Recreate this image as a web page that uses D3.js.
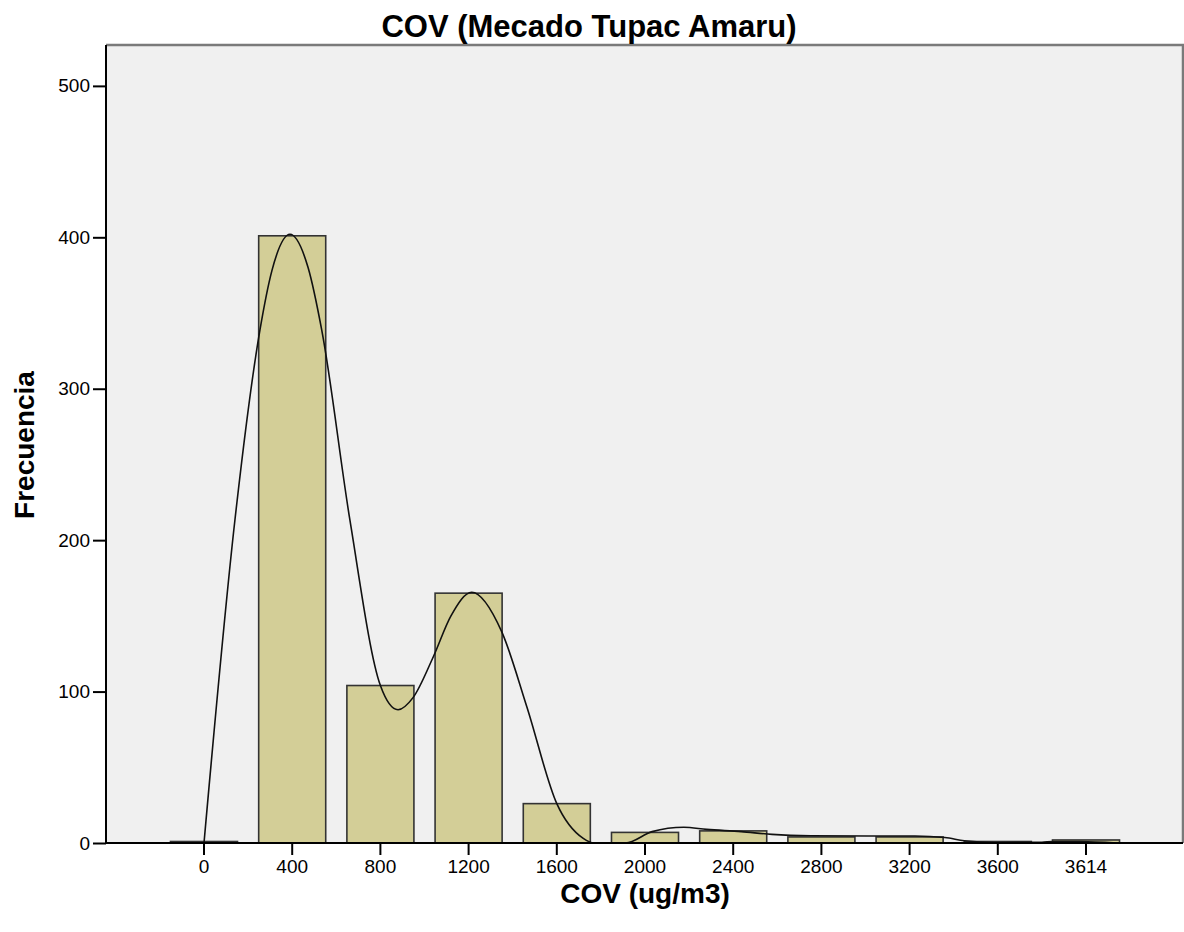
<!DOCTYPE html>
<html>
<head>
<meta charset="utf-8">
<script src="https://cdn.jsdelivr.net/npm/d3@7/dist/d3.min.js"></script>
<style>
  html, body { margin: 0; padding: 0; background: #fff; }
  svg { display: block; font-family: "Liberation Sans", Arial, sans-serif; }
</style>
</head>
<body>
<svg id="chart" width="1184" height="932"></svg>
<script>
// Histogram bins (category labels) and their frequencies
const binLabels = ["0", "400", "800", "1200", "1600", "2000", "2400", "2800", "3200", "3600", "3614"];
const frequencies = [1, 401, 104, 165, 26, 7, 8, 4, 4, 1, 2];
const yTicks = [0, 100, 200, 300, 400, 500];

// Density curve: position along the bin axis (bin index) and frequency
const curveIndex = [0, 0.35, 0.635, 0.77, 0.975, 1.18, 1.334, 1.655, 2.0, 2.2, 2.37, 2.6, 2.8, 3.035, 3.375, 3.66, 4.0, 4.3, 4.42, 4.78, 5.08, 5.44, 5.7, 6.09, 6.44, 6.88, 7.53, 8.06, 8.4, 8.62, 8.97, 9.5, 9.62, 9.93, 10.35];
const curveValue = [0, 213, 339, 378, 402, 380, 339, 213, 104, 88, 96, 123, 150, 165.6, 139.6, 90, 26, 3, 0, 0, 7.5, 10.4, 9, 7.5, 5.7, 4.8, 4.6, 4.6, 3.6, 1.5, 0.3, 0.5, 1, 1, 0];

const svg = d3.select("#chart");
const plot = { left: 106, top: 45, right: 1183, bottom: 843 };

const x = d3.scaleBand()
  .domain(binLabels)
  .range([159.9, 1130.1])
  .paddingInner(0.24)
  .paddingOuter(0.12);

const y = d3.scaleLinear()
  .domain([0, 527])
  .range([plot.bottom, plot.top]);

// Linear mapping of bin index to pixel, sharing the band scale's geometry
const xIdx = d3.scaleLinear()
  .domain([0, 1])
  .range([x(binLabels[0]) + x.bandwidth() / 2, x(binLabels[1]) + x.bandwidth() / 2]);

// Plot background and frame
svg.append("rect")
  .attr("x", plot.left).attr("y", plot.top)
  .attr("width", plot.right - plot.left).attr("height", plot.bottom - plot.top)
  .attr("fill", "#f0f0f0");
svg.append("path")
  .attr("d", `M${plot.left},${plot.top}H${plot.right}V${plot.bottom}`)
  .attr("fill", "none").attr("stroke", "#7a7a7a").attr("stroke-width", 2.5);

// Bars
svg.append("g").selectAll("rect")
  .data(frequencies)
  .join("rect")
  .attr("x", (d, i) => x(binLabels[i]))
  .attr("y", d => y(d))
  .attr("width", x.bandwidth())
  .attr("height", d => y(0) - y(d))
  .attr("fill", "#d3ce97")
  .attr("stroke", "#333")
  .attr("stroke-width", 1.6);

// Density curve
const line = d3.line()
  .x(d => xIdx(d[0]))
  .y(d => y(d[1]))
  .curve(d3.curveMonotoneX);
svg.append("path")
  .datum(curveIndex.map((v, i) => [v, curveValue[i]]))
  .attr("d", line)
  .attr("fill", "none")
  .attr("stroke", "#111")
  .attr("stroke-width", 1.6);

// Y axis
const yAxis = svg.append("g")
  .attr("transform", `translate(${plot.left},0)`)
  .call(d3.axisLeft(y).tickValues(yTicks).tickSize(13).tickSizeOuter(0).tickPadding(3));
yAxis.select(".domain").attr("d", `M0,${plot.top}V${plot.bottom}`).attr("stroke", "#000").attr("stroke-width", 2);
yAxis.selectAll(".tick line").attr("stroke", "#000").attr("stroke-width", 2);
yAxis.selectAll(".tick text").attr("font-size", 19).attr("fill", "#000")
  .attr("font-family", "Liberation Sans, Arial, sans-serif");

// X axis
const xAxis = svg.append("g")
  .attr("transform", `translate(0,${plot.bottom})`)
  .call(d3.axisBottom(x).tickSize(12).tickSizeOuter(0).tickPadding(5));
xAxis.select(".domain").attr("d", `M${plot.left},0H${plot.right}`).attr("stroke", "#000").attr("stroke-width", 2);
xAxis.selectAll(".tick line").attr("stroke", "#000").attr("stroke-width", 2);
xAxis.selectAll(".tick text").attr("font-size", 19).attr("fill", "#000")
  .attr("font-family", "Liberation Sans, Arial, sans-serif");

// Titles
svg.append("text")
  .attr("x", 589).attr("y", 37)
  .attr("text-anchor", "middle")
  .attr("font-size", 31).attr("font-weight", "bold")
  .text("COV (Mecado Tupac Amaru)");
svg.append("text")
  .attr("x", 645).attr("y", 903)
  .attr("text-anchor", "middle")
  .attr("font-size", 28).attr("font-weight", "bold")
  .text("COV (ug/m3)");
svg.append("text")
  .attr("transform", "translate(34,445) rotate(-90)")
  .attr("text-anchor", "middle")
  .attr("font-size", 28).attr("font-weight", "bold")
  .text("Frecuencia");
</script>
</body>
</html>
